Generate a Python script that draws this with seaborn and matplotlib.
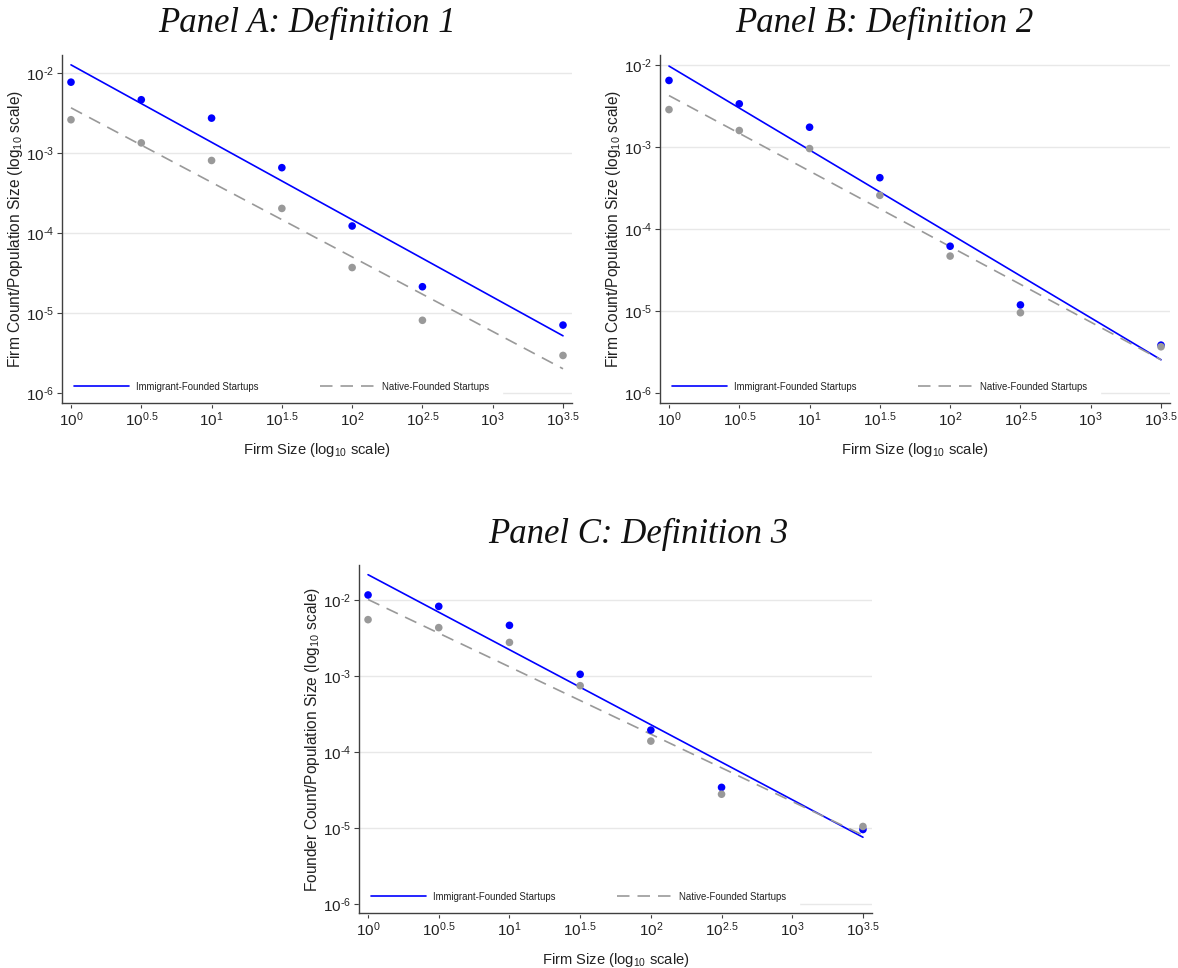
import matplotlib
matplotlib.use("Agg")
import matplotlib.pyplot as plt
import seaborn as sns
import numpy as np
import pandas as pd

# ---------------- data (log10 values) ----------------
firm_size_log10 = [0.0, 0.5, 1.0, 1.5, 2.0, 2.5, 3.5]

panel_a_immigrant = [-2.11, -2.33, -2.56, -3.18, -3.91, -4.67, -5.15]
panel_a_native = [-2.58, -2.87, -3.09, -3.69, -4.43, -5.09, -5.53]

panel_b_immigrant = [-2.19, -2.475, -2.76, -3.375, -4.21, -4.925, -5.415]
panel_b_native = [-2.545, -2.80, -3.02, -3.59, -4.33, -5.02, -5.435]

panel_c_immigrant = [-1.93, -2.08, -2.33, -2.975, -3.71, -4.465, -5.02]
panel_c_native = [-2.255, -2.36, -2.555, -3.125, -3.855, -4.555, -4.98]

panel_titles = ["Panel A: Definition 1", "Panel B: Definition 2", "Panel C: Definition 3"]
y_labels = ["Firm Count/Population Size (log$_{10}$ scale)",
            "Firm Count/Population Size (log$_{10}$ scale)",
            "Founder Count/Population Size (log$_{10}$ scale)"]
x_label = "Firm Size (log$_{10}$ scale)"
series_names = ["Immigrant-Founded Startups", "Native-Founded Startups"]
x_ticks = [0, 0.5, 1, 1.5, 2, 2.5, 3, 3.5]
x_tick_labels = ["0", "0.5", "1", "1.5", "2", "2.5", "3", "3.5"]
y_ticks = [-6, -5, -4, -3, -2]
y_tick_labels = ["\u20106", "\u20105", "\u20104", "\u20103", "\u20102"]

# ---------------- style ----------------
sns.set_theme(style="white")
plt.rcParams["font.family"] = ["Liberation Sans", "DejaVu Sans"]
plt.rcParams["mathtext.fontset"] = "custom"
plt.rcParams["mathtext.rm"] = "Liberation Sans"
plt.rcParams["mathtext.it"] = "Liberation Sans:italic"
plt.rcParams["mathtext.bf"] = "Liberation Sans:bold"

BLUE = "#0000ff"
GREY = "#999999"
SPINE = "#404040"

W, H = 1178, 968
fig = plt.figure(figsize=(W / 100, H / 100), dpi=100)


def px_axes(left, top, right, bottom):
    return fig.add_axes([left / W, 1 - bottom / H, (right - left) / W, (bottom - top) / H])


def draw(ax, imm, nat, ylabel, ylim):
    df = pd.DataFrame({"x": firm_size_log10, "imm": imm, "nat": nat})
    ax.set_xlim(-0.064, 3.564)
    ax.set_ylim(*ylim)
    ax.set_yticks(y_ticks)
    ax.set_yticklabels(["$10^{%s}$" % t for t in y_tick_labels])
    ax.set_xticks(x_ticks)
    ax.set_xticklabels(["$10^{%s}$" % t for t in x_tick_labels])
    ax.yaxis.grid(True, color="#e8e8e8", lw=1.0)
    ax.xaxis.grid(False)
    ax.set_axisbelow(True)

    sns.regplot(data=df, x="x", y="imm", ax=ax, scatter=False, ci=None,
                color=BLUE, label=series_names[0],
                line_kws=dict(lw=1.2, zorder=2))
    sns.regplot(data=df, x="x", y="nat", ax=ax, scatter=False, ci=None,
                color=GREY, label=series_names[1],
                line_kws=dict(lw=1.2, ls=(0, (7.5, 4.8)), zorder=2))
    sns.scatterplot(data=df, x="x", y="imm", ax=ax, color=BLUE, s=30,
                    edgecolor="none", zorder=3, legend=False)
    sns.scatterplot(data=df, x="x", y="nat", ax=ax, color=GREY, s=30,
                    edgecolor="none", zorder=3, legend=False)

    for s in ["top", "right"]:
        ax.spines[s].set_visible(False)
    for s in ["left", "bottom"]:
        ax.spines[s].set_color(SPINE)
        ax.spines[s].set_linewidth(1.0)
        ax.spines[s].set_zorder(4)
    ax.tick_params(axis="both", which="major", left=True, bottom=True,
                   length=3.5, width=0.8, color=SPINE, labelsize=11,
                   labelcolor="#222222", pad=2)

    ax.set_xlabel(x_label, fontsize=10.6, color="#222222")
    ax.set_ylabel(ylabel, fontsize=11.2, color="#222222")
    ax.xaxis.set_label_coords(0.5, -0.108)
    ax.yaxis.set_label_coords(-0.073, 0.5)

    leg = ax.legend(loc="lower left", bbox_to_anchor=(0.0, -0.003), ncol=2,
                    frameon=True, fontsize=6.9, handlelength=5.7,
                    handletextpad=0.75, columnspacing=6.4, borderpad=1.3,
                    borderaxespad=0.0)
    leg.get_frame().set_facecolor("white")
    leg.get_frame().set_edgecolor("white")
    leg.get_frame().set_alpha(1.0)
    leg.get_frame().set_boxstyle("square", pad=0.0)
    leg.set_zorder(2.3)
    for t in leg.get_texts():
        t.set_color("#222222")


ax_a = px_axes(62, 55, 572, 403)
draw(ax_a, panel_a_immigrant, panel_a_native, y_labels[0], (-6.125, -1.77))

ax_b = px_axes(660, 55, 1170, 403)
draw(ax_b, panel_b_immigrant, panel_b_native, y_labels[1], (-6.12, -1.88))

ax_c = px_axes(359, 565, 872, 913)
draw(ax_c, panel_c_immigrant, panel_c_native, y_labels[2], (-6.12, -1.535))

title_kw = dict(ha="center", va="baseline", fontsize=25, style="italic",
                family=["Liberation Serif", "DejaVu Serif"], color="#111111")
fig.text(307 / W, 1 - 32 / H, panel_titles[0], **title_kw)
fig.text(884 / W, 1 - 32 / H, panel_titles[1], **title_kw)
fig.text(638 / W, 1 - 543 / H, panel_titles[2], **title_kw)

fig.savefig("out.png", dpi=100, facecolor="white")
